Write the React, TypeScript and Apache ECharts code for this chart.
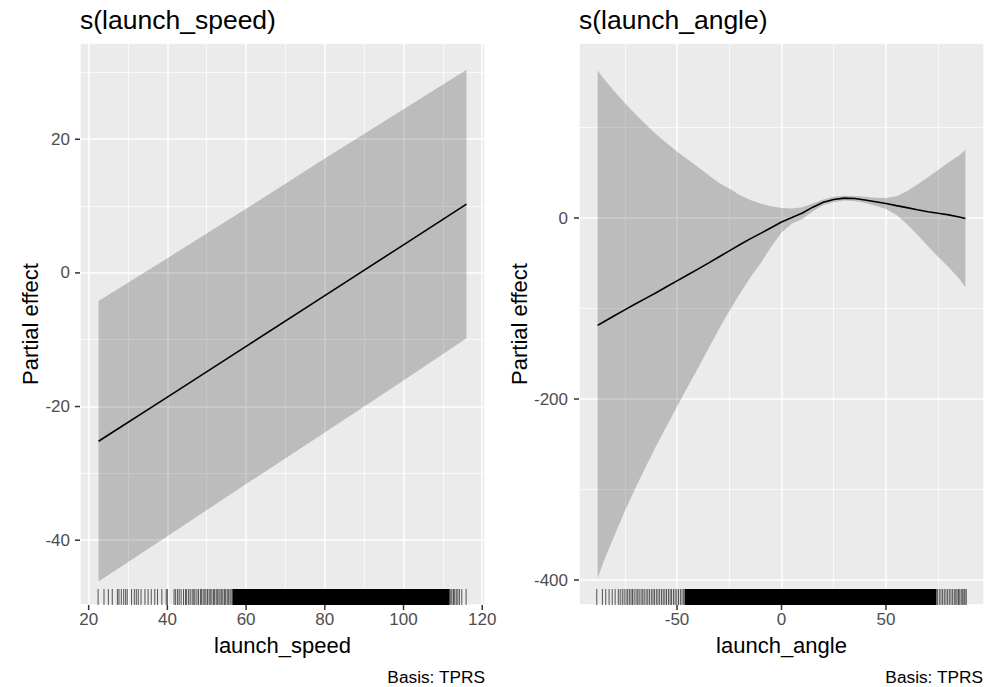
import React, { useEffect, useRef } from 'react';
import * as echarts from 'echarts';

const FONT = '"Liberation Sans", Arial, Helvetica, sans-serif';

// ---- s(launch_speed) ----
const speedX = [22.5, 40, 60, 80, 100, 116];
const speedFit = [-25.2, -18.6, -11.0, -3.4, 4.2, 10.3];
const speedUpper = [-4.2, 2.2, 9.6, 17.1, 24.5, 30.4];
const speedLower = [-46.2, -39.4, -31.6, -23.9, -16.1, -9.8];
const speedXTicks = [20, 40, 60, 80, 100, 120];
const speedYTicks = [-40, -20, 0, 20];
// individual rug marks and a stretch where marks overlap completely
const speedRugTicks = [
  22.4, 23.9, 25.0, 26.0, 27.3, 27.7, 28.3, 28.9, 29.4, 29.8, 30.9, 31.6, 32.1, 32.6, 33.3,
  34.3, 35.1, 35.9, 36.8, 37.5, 38.6, 39.7, 40.0, 41.7, 42.1, 42.6, 43.0, 43.5, 44.1, 44.6,
  44.9, 45.4, 45.8, 46.3, 46.7, 47.0, 47.5, 47.9, 48.4, 48.7, 49.1, 49.5, 49.8, 50.2, 50.6,
  50.9, 51.3, 51.7, 52.0, 52.4, 52.7, 53.1, 53.4, 53.8, 54.1, 54.5, 54.8, 55.2, 55.5, 55.9,
  56.2, 111.7, 112.0, 112.3, 112.7, 113.0, 113.4, 113.8, 114.2, 114.8, 115.9,
];
const speedRugSpans = [[56.5, 111.6]];

// ---- s(launch_angle) ----
const angleX = [
  -88, -85, -80, -75, -70, -65, -60, -55, -50, -45, -40, -35, -30, -25, -20, -15, -10, -5, 0,
  5, 10, 15, 20, 25, 30, 35, 40, 45, 50, 55, 60, 65, 70, 75, 80, 85, 88,
];
const angleFit = [
  -118.6, -114.6, -108, -101.5, -95, -88.8, -82.5, -76, -69.5, -63, -56.5, -49.8, -43, -36.3,
  -29.5, -23, -17, -10.7, -4.4, 0.5, 5.5, 12, 17.5, 20.5, 22, 21.5, 20, 18, 16, 13.7, 11.5,
  9.2, 7, 5.2, 3.5, 1.2, -0.5,
];
const angleUpper = [
  163, 154, 140, 127, 115, 103.5, 92.5, 83, 73.5, 65, 56.5, 47.5, 39, 32.5, 25.5, 20, 16, 13,
  11, 10.5, 12, 16, 20.5, 23.5, 24.5, 24.2, 23.5, 22.5, 22, 24, 29.5, 37, 45, 53, 61.5, 69, 75.5,
];
const angleLower = [
  -398, -379, -351, -324, -299, -275, -252, -230, -208.5, -187, -166, -144.5, -123, -103,
  -84, -66, -50, -32, -16, -6, -1, 7.5, 14.5, 17.5, 19.5, 18.8, 16.5, 13.5, 10, 3.4, -6.5,
  -18.5, -31, -43, -54.5, -67, -76.5,
];
const angleXTicks = [-50, 0, 50];
const angleYTicks = [-400, -200, 0];
const angleRugTicks = [
  -88.4, -85.7, -84.1, -82.5, -81.0, -79.6, -78.1, -77.2, -76.2, -75.3, -74.4, -73.6, -72.8,
  -72.0, -71.3, -70.5, -69.6, -68.8, -68.1, -67.2, -66.4, -65.7, -64.8, -64.0, -63.2, -62.3,
  -61.5, -60.8, -59.9, -59.1, -58.3, -57.4, -56.6, -55.8, -55.0, -54.1, -53.3, -52.6, -51.7,
  -50.9, -50.1, -49.3, -48.4, -47.6, -46.8, 74.7, 75.5, 76.3, 77.1, 77.9, 78.7, 79.5, 80.3,
  81.1, 81.9, 82.7, 83.4, 84.0, 84.7, 85.3, 86.0, 86.7, 87.3, 87.8, 88.4,
];
const angleRugSpans = [[-46.4, 74.2]];

const RUG_LEN = 16;
const TICK_LEN = 5;
const BAND = 'rgba(0,0,0,0.2)';

// panel rectangles (left, top, width, height)
const PANELS = [
  { left: 80, top: 43, width: 405, height: 562 },
  { left: 579, top: 43, width: 405, height: 562 },
];

const onStep = (step: number) => (v: number) =>
  Math.abs(v / step - Math.round(v / step)) < 1e-6 ? String(Math.round(v)) : '';

function valueAxis(opts: {
  grid: number; min: number; max: number; step: number; ticks: number[];
  name: string; nameGap: number; margin: number;
}) {
  return {
    type: 'value',
    gridIndex: opts.grid,
    min: opts.min,
    max: opts.max,
    minInterval: opts.step,
    maxInterval: opts.step,
    name: opts.name,
    nameLocation: 'middle',
    nameGap: opts.nameGap,
    nameTextStyle: { color: '#000', fontSize: 22, fontFamily: FONT },
    axisLine: { show: false, onZero: false },
    axisTick: { show: false },
    axisLabel: {
      color: '#4D4D4D', fontSize: 17, fontFamily: FONT, margin: opts.margin,
      customValues: opts.ticks, formatter: onStep(opts.step),
    },
    splitLine: { show: true, lineStyle: { color: '#FFFFFF', width: 1.5 } },
    minorTick: { show: false, splitNumber: 2 },
    minorSplitLine: { show: true, lineStyle: { color: '#FFFFFF', width: 0.7 } },
  };
}

function rugRender(params: any, api: any) {
  const cs = params.coordSys;
  const a = api.coord([api.value(0), 0])[0];
  const b = api.coord([api.value(1), 0])[0];
  const bottom = cs.y + cs.height;
  if (b - a < 0.5) {
    return {
      type: 'line',
      shape: { x1: a, y1: bottom, x2: a, y2: bottom - RUG_LEN },
      style: { stroke: 'rgba(0,0,0,0.65)', lineWidth: 1 },
    };
  }
  return {
    type: 'rect',
    shape: { x: a, y: bottom - RUG_LEN, width: b - a, height: RUG_LEN },
    style: { fill: '#000' },
  };
}

// confidence band: one polygon along the upper edge and back along the lower edge
function bandRender(xs: number[], upper: number[], lower: number[]) {
  return (params: any, api: any) => {
    if (params.dataIndex !== 0) return null;
    const pts: number[][] = [];
    for (let i = 0; i < xs.length; i++) pts.push(api.coord([xs[i], upper[i]]));
    for (let i = xs.length - 1; i >= 0; i--) pts.push(api.coord([xs[i], lower[i]]));
    return { type: 'polygon', shape: { points: pts }, style: { fill: BAND } };
  };
}

function panelSeries(idx: number, xs: number[], fit: number[], upper: number[], lower: number[],
  rugTicks: number[], rugSpans: number[][]) {
  return [
    {
      type: 'custom', xAxisIndex: idx, yAxisIndex: idx,
      encode: { x: 0, y: [1, 2] },
      data: xs.map((x, i) => [x, lower[i], upper[i]]),
      renderItem: bandRender(xs, upper, lower), silent: true, z: 1,
    },
    {
      type: 'line', xAxisIndex: idx, yAxisIndex: idx,
      data: xs.map((x, i) => [x, fit[i]]), symbol: 'none',
      lineStyle: { color: '#000', width: 1.6 }, silent: true, z: 3,
    },
    {
      type: 'custom', xAxisIndex: idx, yAxisIndex: idx,
      encode: { x: [0, 1] },
      data: rugTicks.map((v) => [v, v]).concat(rugSpans),
      renderItem: rugRender, silent: true, z: 4,
    },
  ];
}

const textStyle = (text: string, size: number, color: string, align: string) => ({
  text, fontSize: size, fill: color, fontFamily: FONT, textAlign: align, textVerticalAlign: 'middle',
});

export default function App() {
  const ref = useRef<HTMLDivElement>(null);

  useEffect(() => {
    document.body.style.margin = '0';
    const chart = echarts.init(ref.current!, null, { renderer: 'svg' });
    const option: any = {
      animation: false,
      backgroundColor: '#FFFFFF',
      grid: PANELS.map((p) => ({ ...p, show: true, backgroundColor: '#EBEBEB', borderWidth: 0 })),
      xAxis: [
        valueAxis({ grid: 0, min: 17.8, max: 120.7, step: 20, ticks: speedXTicks, name: 'launch_speed', nameGap: 29, margin: 6 }),
        valueAxis({ grid: 1, min: -96.9, max: 96.9, step: 50, ticks: angleXTicks, name: 'launch_angle', nameGap: 29, margin: 6 }),
      ],
      yAxis: [
        valueAxis({ grid: 0, min: -49.7, max: 34.4, step: 20, ticks: speedYTicks, name: 'Partial effect', nameGap: 39, margin: 10 }),
        valueAxis({ grid: 1, min: -427.6, max: 193.4, step: 200, ticks: angleYTicks, name: 'Partial effect', nameGap: 49, margin: 11 }),
      ],
      series: [
        ...panelSeries(0, speedX, speedFit, speedUpper, speedLower, speedRugTicks, speedRugSpans),
        ...panelSeries(1, angleX, angleFit, angleUpper, angleLower, angleRugTicks, angleRugSpans),
      ],
    };
    chart.setOption(option);

    // outward tick marks at each break, positioned with the grids' own scales
    const tickMarks: any[] = [];
    const addTicks = (idx: number, xTicks: number[], yTicks: number[]) => {
      const p = PANELS[idx];
      const bottom = p.top + p.height;
      const yRef = yTicks[0];
      const xRef = xTicks[0];
      xTicks.forEach((v) => {
        const pt = chart.convertToPixel({ gridIndex: idx } as any, [v, yRef]) as any;
        const x = Array.isArray(pt) ? pt[0] : NaN;
        if (!isFinite(x)) return;
        tickMarks.push({
          type: 'line', z: 20, silent: true,
          shape: { x1: x, y1: bottom, x2: x, y2: bottom + TICK_LEN },
          style: { stroke: '#333333', lineWidth: 1.5 },
        });
      });
      yTicks.forEach((v) => {
        const pt = chart.convertToPixel({ gridIndex: idx } as any, [xRef, v]) as any;
        const y = Array.isArray(pt) ? pt[1] : NaN;
        if (!isFinite(y)) return;
        tickMarks.push({
          type: 'line', z: 20, silent: true,
          shape: { x1: p.left - TICK_LEN, y1: y, x2: p.left, y2: y },
          style: { stroke: '#333333', lineWidth: 1.5 },
        });
      });
    };
    addTicks(0, speedXTicks, speedYTicks);
    addTicks(1, angleXTicks, angleYTicks);

    chart.setOption({
      graphic: [
        { type: 'text', x: 80, y: 20, style: textStyle('s(launch_speed)', 26.5, '#000', 'left') },
        { type: 'text', x: 579, y: 20, style: textStyle('s(launch_angle)', 26.5, '#000', 'left') },
        { type: 'text', x: 485, y: 677, style: textStyle('Basis: TPRS', 17.3, '#000', 'right') },
        { type: 'text', x: 983, y: 677, style: textStyle('Basis: TPRS', 17.3, '#000', 'right') },
        ...tickMarks,
      ],
    });
    return () => chart.dispose();
  }, []);

  return <div ref={ref} style={{ width: 986, height: 687 }} />;
}
